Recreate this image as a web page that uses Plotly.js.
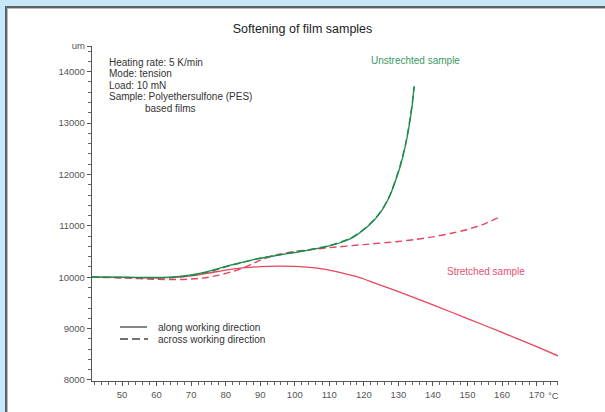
<!DOCTYPE html>
<html>
<head>
<meta charset="utf-8">
<script src="https://cdn.plot.ly/plotly-3.0.1.min.js"></script>
<style>
  html, body { margin:0; padding:0; }
  #wrap { position:relative; width:605px; height:412px; background:#c6e8f9; overflow:hidden; }
  #panel { position:absolute; left:5px; top:6px; width:620px; height:430px; background:#ffffff;
           border-left:2px solid #5b6166; border-top:2px solid #5b6166; box-shadow: inset 1px 1px 0 #b9bcbf; }
  #chart { position:absolute; left:0; top:0; width:605px; height:412px; }
</style>
</head>
<body>
<div id="wrap"><div id="panel"></div><div id="chart"></div></div>
<script>
// Unstretched sample, along working direction
const unstrAlongX = [41.3, 50, 60, 65, 70, 75, 80, 85, 90, 95, 100, 105, 110, 114, 117, 119.5, 121.5, 123.5, 125.5, 127.5, 129, 130.5, 132, 133, 134, 134.5];
const unstrAlongY = [10000, 10000, 9995, 10005, 10045, 10115, 10210, 10295, 10370, 10425, 10480, 10540, 10610, 10690, 10780, 10900, 11010, 11150, 11330, 11580, 11850, 12150, 12550, 12900, 13350, 13700];
// Unstretched sample, across working direction
const unstrAcrossX = [41.3, 50, 60, 65, 70, 75, 80, 85, 90, 95, 100, 105, 110, 114, 117, 119.5, 121.5, 123.5, 125.5, 127.5, 129, 130.5, 132, 133, 134, 134.6];
const unstrAcrossY = [10000, 9995, 9985, 9995, 10035, 10100, 10200, 10290, 10370, 10430, 10490, 10545, 10615, 10700, 10790, 10910, 11020, 11160, 11340, 11590, 11860, 12170, 12570, 12930, 13380, 13720];
// Stretched sample, along working direction
const strAlongX = [41.3, 50, 60, 65, 70, 75, 80, 85, 90, 95, 100, 105, 110, 115, 118, 120, 122, 125, 130, 140, 150, 160, 170, 176.2];
const strAlongY = [10000, 9995, 9985, 9995, 10025, 10080, 10140, 10180, 10205, 10215, 10210, 10185, 10140, 10060, 10010, 9965, 9915, 9840, 9720, 9460, 9195, 8925, 8650, 8470];
// Stretched sample, across working direction
const strAcrossX = [41.3, 50, 60, 67, 72, 75, 78, 82, 85, 88, 91, 95, 100, 105, 110, 120, 130, 135, 140, 145, 150, 155, 159.5];
const strAcrossY = [10000, 9985, 9960, 9955, 9975, 10000, 10040, 10110, 10180, 10270, 10360, 10440, 10500, 10540, 10575, 10635, 10695, 10735, 10785, 10850, 10930, 11040, 11180];

const yTickVals = [8000, 9000, 10000, 11000, 12000, 13000, 14000, 14500];
const yTickText = ['8000', '9000', '10000', '11000', '12000', '13000', '14000', 'um'];
const xTickVals = [50, 60, 70, 80, 90, 100, 110, 120, 130, 140, 150, 160, 170];
const xTickText = ['50', '60', '70', '80', '90', '100', '110', '120', '130', '140', '150', '160', '170'];

const GREEN = '#1f8a4c';
const RED = '#e8445d';
const FONT = 'Liberation Sans, Arial, sans-serif';

const traces = [
  {x: strAcrossX, y: strAcrossY, mode: 'lines', line: {color: RED, width: 1.4, dash: '7px,4px', shape: 'spline', smoothing: 0.6}},
  {x: strAlongX, y: strAlongY, mode: 'lines', line: {color: RED, width: 1.3, shape: 'spline', smoothing: 0.6}},
  {x: unstrAcrossX, y: unstrAcrossY, mode: 'lines', line: {color: GREEN, width: 1.4, dash: '7px,4px', shape: 'spline', smoothing: 0.6}},
  {x: unstrAlongX, y: unstrAlongY, mode: 'lines', line: {color: GREEN, width: 1.3, shape: 'spline', smoothing: 0.6}}
];

const infoLines = ['Heating rate: 5 K/min', 'Mode: tension', 'Load: 10 mN', 'Sample: Polyethersulfone (PES)'];
const annotations = [];
infoLines.forEach((t, i) => {
  annotations.push({xref: 'paper', yref: 'paper', x: (107 - 92) / 466, y: (381 - (62 + i * 11.6)) / 335,
    xanchor: 'left', yanchor: 'middle', text: t, showarrow: false, font: {family: FONT, size: 10, color: '#333'}});
});
annotations.push({xref: 'paper', yref: 'paper', x: (143 - 92) / 466, y: (381 - 108.5) / 335,
  xanchor: 'left', yanchor: 'middle', text: 'based films', showarrow: false, font: {family: FONT, size: 10, color: '#333'}});
annotations.push({xref: 'x', yref: 'y', x: 134.9, y: 14210, text: 'Unstrechted sample', showarrow: false,
  font: {family: FONT, size: 10, color: '#3a9a60'}});
annotations.push({xref: 'x', yref: 'y', x: 155.5, y: 10117, text: 'Stretched sample', showarrow: false,
  font: {family: FONT, size: 10, color: '#e8506a'}});
annotations.push({xref: 'paper', yref: 'paper', x: (156 - 92) / 466, y: (381 - 327) / 335, xanchor: 'left', yanchor: 'middle',
  text: 'along working direction', showarrow: false, font: {family: FONT, size: 10, color: '#333'}});
annotations.push({xref: 'paper', yref: 'paper', x: (156 - 92) / 466, y: (381 - 339) / 335, xanchor: 'left', yanchor: 'middle',
  text: 'across working direction', showarrow: false, font: {family: FONT, size: 10, color: '#333'}});
annotations.push({xref: 'paper', yref: 'paper', x: (546 - 92) / 466, y: 0, yshift: -14, xanchor: 'left', yanchor: 'middle',
  text: '°C', showarrow: false, font: {family: FONT, size: 9.5, color: '#555'}});

const shapes = [
  {type: 'line', xref: 'paper', yref: 'paper', x0: (120 - 92) / 466, x1: (147 - 92) / 466, y0: (381 - 327) / 335, y1: (381 - 327) / 335,
   line: {color: '#444', width: 1.3}},
  {type: 'line', xref: 'paper', yref: 'paper', x0: (120 - 92) / 466, x1: (148 - 92) / 466, y0: (381 - 339) / 335, y1: (381 - 339) / 335,
   line: {color: '#444', width: 1.3, dash: '8px,4px'}}
];

const layout = {
  width: 605, height: 412,
  margin: {l: 92, r: 47, t: 46, b: 31},
  paper_bgcolor: 'rgba(0,0,0,0)', plot_bgcolor: 'rgba(0,0,0,0)',
  showlegend: false,
  font: {family: FONT, size: 9.5, color: '#555'},
  title: {text: 'Softening of film samples', font: {family: FONT, size: 12.5, color: '#222'}, x: 0.5, y: 1 - 29 / 412, yanchor: 'middle'},
  xaxis: {range: [41.3, 176.2], tickmode: 'array', tickvals: xTickVals, ticktext: xTickText,
    showgrid: false, zeroline: false, showline: true, linecolor: '#555', linewidth: 1.2,
    ticks: 'outside', ticklen: 4, tickcolor: '#555', tickwidth: 1, tickfont: {family: FONT, size: 9.5, color: '#555'},
    minor: {tickmode: 'linear', tick0: 40, dtick: 2, ticks: 'outside', ticklen: 3, tickcolor: '#666', showgrid: false}},
  yaxis: {range: [7980, 14500], tickmode: 'array', tickvals: yTickVals, ticktext: yTickText,
    showgrid: false, zeroline: false, showline: true, linecolor: '#555', linewidth: 1.2,
    ticks: 'outside', ticklen: 4, tickcolor: '#555', tickwidth: 1, tickfont: {family: FONT, size: 9.5, color: '#555'},
    minor: {tickmode: 'linear', tick0: 8000, dtick: 200, ticks: 'outside', ticklen: 2.5, tickcolor: '#666', showgrid: false}},
  annotations: annotations,
  shapes: shapes
};

Plotly.newPlot('chart', traces, layout, {displayModeBar: false, staticPlot: true});
</script>
</body>
</html>
